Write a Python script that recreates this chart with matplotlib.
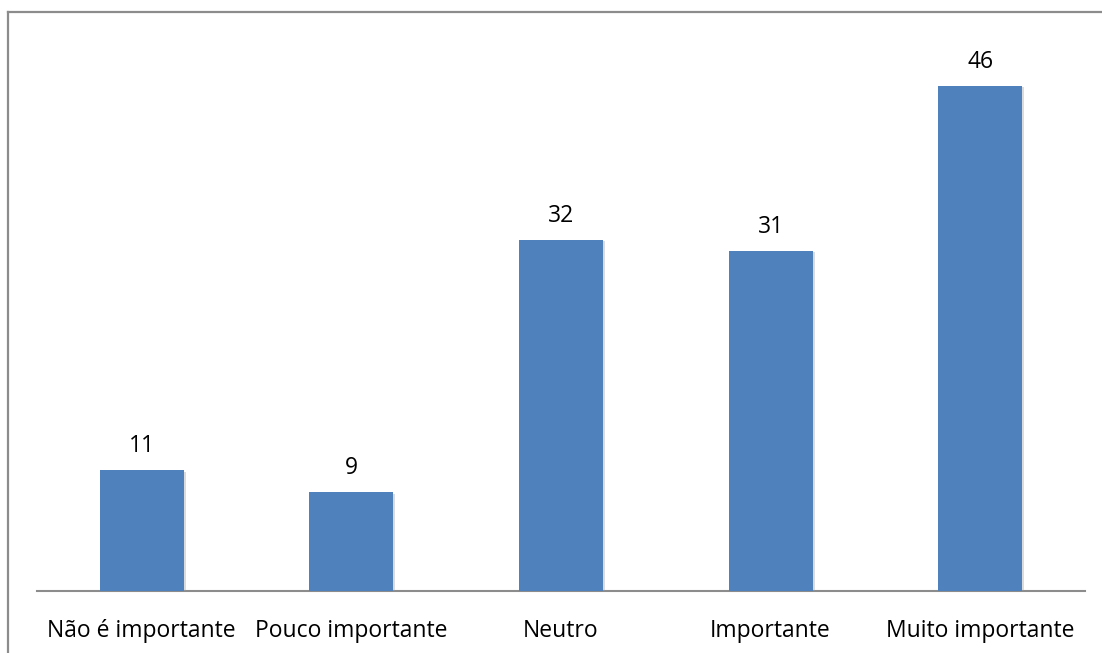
import matplotlib
matplotlib.use("Agg")
import matplotlib.pyplot as plt
from matplotlib.lines import Line2D
import matplotlib.patheffects as pe

categories = ["Não é importante", "Pouco importante", "Neutro", "Importante", "Muito importante"]
values = [11, 9, 32, 31, 46]

plt.rcParams["font.family"] = ["Open Sans", "DejaVu Sans"]

W, H = 1102, 653
fig = plt.figure(figsize=(W / 100, H / 100), dpi=100)
ax = fig.add_axes([37 / W, 1 - 591 / H, (1085 - 37) / W, (591 - 42) / H])

x = range(len(categories))
bars = ax.bar(x, values, width=0.4, color="#4F81BD", zorder=3)
for b in bars:
    b.set_path_effects([pe.SimplePatchShadow(offset=(1.5, -1), shadow_rgbFace="#999999", alpha=0.35),
                        pe.Normal()])

for xi, v in zip(x, values):
    ax.annotate(str(v), (xi, v), xytext=(0, 8.5), textcoords="offset points",
                ha="center", va="bottom", fontsize=16.5, color="black")

ax.set_xlim(-0.5, len(categories) - 0.5)
ax.set_ylim(0, 50)
ax.set_xticks(list(x))
ax.set_xticklabels(categories, fontsize=16.5)
ax.tick_params(axis="x", length=0, pad=20)
ax.set_yticks([])
for s in ["top", "right", "left"]:
    ax.spines[s].set_visible(False)
ax.spines["bottom"].set_color("#8c8c8c")
ax.spines["bottom"].set_linewidth(1.5)

# outer frame lines
fig.add_artist(Line2D([7.5 / W, 1.0], [1 - 11.5 / H, 1 - 11.5 / H], color="#8c8c8c", lw=1.6))
fig.add_artist(Line2D([7.5 / W, 7.5 / W], [0, 1 - 11.5 / H], color="#8c8c8c", lw=1.6))

fig.savefig("out.png", dpi=100)
